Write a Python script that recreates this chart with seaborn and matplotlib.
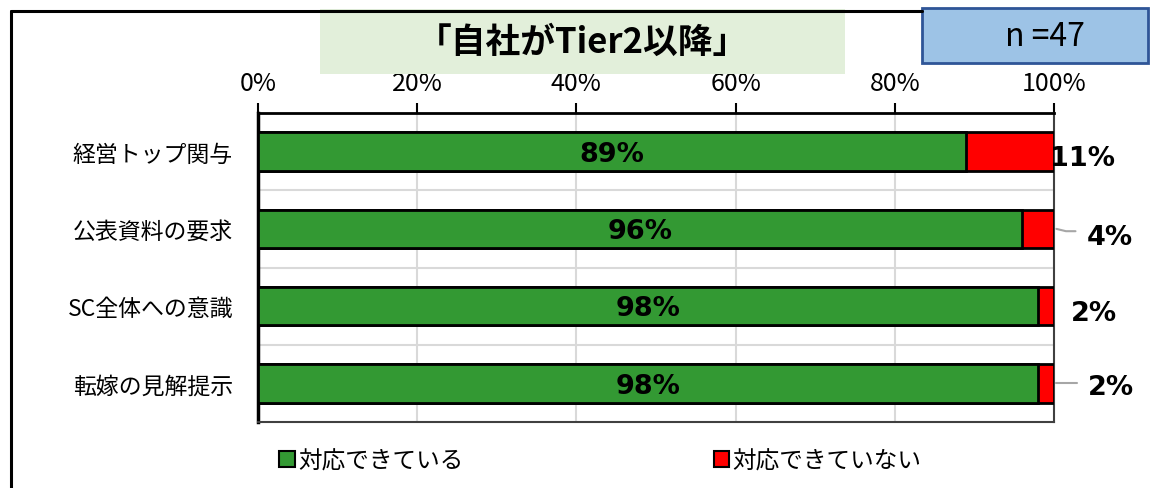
import pandas as pd
import matplotlib
matplotlib.use("Agg")
import matplotlib.pyplot as plt
import matplotlib.patches as mpatches
from matplotlib.lines import Line2D
from matplotlib.ticker import FixedLocator
import seaborn as sns

categories = ["経営トップ関与", "公表資料の要求", "SC全体への意識", "転嫁の見解提示"]
done = [89, 96, 98, 98]
not_done = [11, 4, 2, 2]
series_names = ["対応できている", "対応できていない"]
x_ticks = [0, 20, 40, 60, 80, 100]
title = "「自社がTier2以降」"
n_label = "n =47"

green = "#339933"
red = "#FF0000"

sns.set_style("white")
plt.rcParams["font.family"] = ["Noto Sans CJK JP", "DejaVu Sans"]
plt.rcParams["text.color"] = "black"
plt.rcParams["xtick.labelcolor"] = "black"
plt.rcParams["ytick.labelcolor"] = "black"

df = pd.DataFrame({"cat": categories, "done": done, "not_done": not_done})
df["total"] = df["done"] + df["not_done"]

fig = plt.figure(figsize=(11.58, 4.89), dpi=100)
ax = fig.add_axes([258 / 1158, 1 - 423 / 489, 796 / 1158, 309 / 489])

sns.barplot(data=df, x="total", y="cat", orient="h", color=red, width=0.5,
            edgecolor="black", linewidth=2, saturation=1, ax=ax, zorder=3)
sns.barplot(data=df, x="done", y="cat", orient="h", color=green, width=0.5,
            edgecolor="black", linewidth=2, saturation=1, ax=ax, zorder=4)

ax.set_xlim(0, 100)
ax.set_ylim(3.5, -0.5)
ax.set_xlabel("")
ax.set_ylabel("")

# x axis on top
ax.xaxis.tick_top()
ax.set_xticks(x_ticks)
ax.set_xticklabels([f"{t}%" for t in x_ticks], fontsize=18)
ax.tick_params(axis="x", direction="out", length=7, width=1.5, color="black", pad=5)
for t in x_ticks[1:-1]:
    ax.axvline(t, color="#d9d9d9", lw=1.5, zorder=1)

# category axis
ax.tick_params(axis="y", which="major", length=0, pad=18, labelsize=16.5)
ax.yaxis.set_minor_locator(FixedLocator([-0.5, 0.5, 1.5, 2.5, 3.5]))
ax.tick_params(axis="y", which="minor", direction="out", length=7, width=2, color="black")
for b in [0.5, 1.5, 2.5]:
    ax.axhline(b, color="#d9d9d9", lw=1.5, zorder=1)

for side, lw, col in [("left", 2.5, "black"), ("top", 2, "black"),
                      ("bottom", 1.5, "#404040"), ("right", 1.5, "#404040")]:
    ax.spines[side].set_visible(True)
    ax.spines[side].set_linewidth(lw)
    ax.spines[side].set_color(col)

# value labels
num_font = dict(family="DejaVu Sans", fontsize=19.5, fontweight="bold", color="black")
for i, v in enumerate(done):
    ax.text(v / 2, i + 0.03, f"{v}%", ha="center", va="center", zorder=6, **num_font)

out_pos = [(103.6, 0.08), (107.0, 0.1), (105.0, 0.09), (107.2, 0.05)]
for i, v in enumerate(not_done):
    px, dy = out_pos[i]
    ax.text(px, i + dy, f"{v}%", ha="center", va="center", zorder=6,
            clip_on=False, **num_font)
ax.add_line(Line2D([100.3, 101.5, 102.7], [1.0, 1.03, 1.03], color="#a6a6a6", lw=1.5, clip_on=False))
ax.add_line(Line2D([100.3, 102.9], [3.0, 3.0], color="#a6a6a6", lw=1.5, clip_on=False))

# legend
handles = [mpatches.Patch(facecolor=green, edgecolor="black", lw=1.5, label=series_names[0]),
           mpatches.Patch(facecolor=red, edgecolor="black", lw=1.5, label=series_names[1])]
fig.legend(handles=handles, loc="center left", bbox_to_anchor=(258 / 1158, 1 - 462 / 489),
           ncol=2, frameon=False, fontsize=17, handlelength=0.65, handleheight=0.65,
           handletextpad=0.15, columnspacing=10.6)

# outer frame
fig.add_artist(Line2D([11 / 1158, 11 / 1158], [1 - 12 / 489, 0], color="black", lw=2.2))
fig.add_artist(Line2D([11 / 1158, 922 / 1158], [1 - 12 / 489, 1 - 12 / 489], color="black", lw=2.2))

# title box
fig.add_artist(mpatches.Rectangle((320 / 1158, 1 - 75 / 489), 525 / 1158, 65 / 489,
                                  transform=fig.transFigure, facecolor="#E2EFDA", edgecolor="none"))
fig.text(582 / 1158, 1 - 42 / 489, title, ha="center", va="center", fontsize=25, fontweight="bold")

# n box
fig.add_artist(mpatches.Rectangle((922 / 1158, 1 - 64 / 489), 226 / 1158, 55 / 489,
                                  transform=fig.transFigure, facecolor="#9DC3E6",
                                  edgecolor="#2F5597", lw=2))
fig.text(1045 / 1158, 1 - 37 / 489, n_label, ha="center", va="center", fontsize=23)

fig.savefig("out.png", dpi=100)
